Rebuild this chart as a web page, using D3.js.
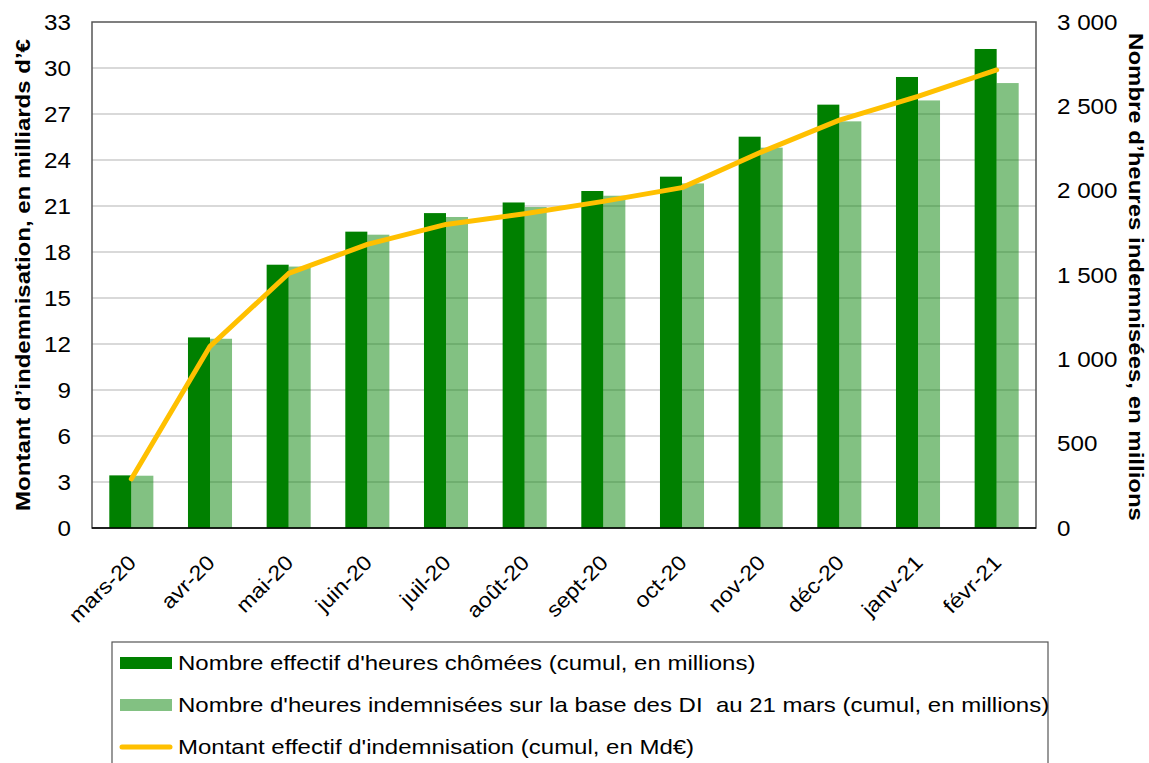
<!DOCTYPE html>
<html>
<head>
<meta charset="utf-8">
<script src="https://cdn.jsdelivr.net/npm/d3@7"></script>
<style>
  body { margin: 0; background: #fff; }
  svg { font-family: "Liberation Sans", Arial, sans-serif; }
</style>
</head>
<body>
<div id="chart"></div>
<script>
// months
var categories = ['mars-20', 'avr-20', 'mai-20', 'juin-20', 'juil-20', 'août-20',
                  'sept-20', 'oct-20', 'nov-20', 'déc-20', 'janv-21', 'févr-21'];
// cumulated hours, millions (right axis)
var heuresEffectives = [312, 1130, 1561, 1757, 1867, 1930, 1998, 2083, 2320, 2510, 2674, 2840];
var heuresDI = [310, 1122, 1550, 1739, 1844, 1903, 1970, 2043, 2255, 2411, 2535, 2638];
// cumulated amount, Md€ (left axis)
var montant = [3.2, 11.85, 16.6, 18.5, 19.8, 20.5, 21.3, 22.2, 24.5, 26.6, 28.15, 29.87];

var leftTicks = [0, 3, 6, 9, 12, 15, 18, 21, 24, 27, 30, 33];
var rightTicks = [0, 500, 1000, 1500, 2000, 2500, 3000];
var seriesNames = ["Nombre effectif d'heures chômées (cumul, en millions)",
                   "Nombre d'heures indemnisées sur la base des DI  au 21 mars (cumul, en millions)",
                   "Montant effectif d'indemnisation (cumul, en Md€)"];

var W = 1149, H = 763;
var margin = {top: 22, right: 113, bottom: 235, left: 92},
    width = W - margin.left - margin.right,
    height = H - margin.top - margin.bottom;

var dark = '#008000', light = 'rgba(0,128,0,0.49)', gold = '#ffc000';
var wide = 'scale(1.2,1)'; // the source font runs wider than Liberation Sans

var svg = d3.select('#chart').append('svg')
    .attr('width', W).attr('height', H);
var g = svg.append('g')
    .attr('transform', 'translate(' + margin.left + ',' + margin.top + ')');

var x0 = d3.scaleBand().domain(categories).range([0, width])
    .paddingInner(0.44).paddingOuter(0.22);
var x1 = d3.scaleBand().domain(['eff', 'di']).range([0, x0.bandwidth()]);
var yL = d3.scaleLinear().domain([0, 33]).range([height, 0]);
var yR = d3.scaleLinear().domain([0, 3000]).range([height, 0]);

// gridlines
g.append('g')
    .selectAll('line').data(leftTicks.filter(function(d) { return d > 0 && d < 33; }))
    .enter().append('line')
    .attr('x1', 0).attr('x2', width)
    .attr('y1', function(d) { return yL(d); }).attr('y2', function(d) { return yL(d); })
    .attr('stroke', '#d9d9d9').attr('stroke-width', 2);

// plot frame
g.append('rect').attr('x', 0).attr('y', 0).attr('width', width).attr('height', height)
    .attr('fill', 'none').attr('stroke', '#555').attr('stroke-width', 1.5);

// bars
var rows = categories.map(function(c, i) {
    return {cat: c, eff: heuresEffectives[i], di: heuresDI[i]};
});
var grp = g.append('g').selectAll('g').data(rows).enter().append('g')
    .attr('transform', function(d) { return 'translate(' + x0(d.cat) + ',0)'; });
grp.append('rect')
    .attr('x', x1('eff')).attr('width', x1.bandwidth())
    .attr('y', function(d) { return yR(d.eff); })
    .attr('height', function(d) { return height - yR(d.eff); })
    .attr('fill', dark);
grp.append('rect')
    .attr('x', x1('di')).attr('width', x1.bandwidth())
    .attr('y', function(d) { return yR(d.di); })
    .attr('height', function(d) { return height - yR(d.di); })
    .attr('fill', light);

// bottom axis line
g.append('line').attr('x1', 0).attr('x2', width).attr('y1', height).attr('y2', height)
    .attr('stroke', '#000').attr('stroke-width', 1.5);

// line
var line = d3.line()
    .x(function(d, i) { return x0(categories[i]) + x0.bandwidth() / 2; })
    .y(function(d) { return yL(d); });
g.append('path').datum(montant)
    .attr('d', line)
    .attr('fill', 'none').attr('stroke', gold).attr('stroke-width', 5)
    .attr('stroke-linecap', 'round').attr('stroke-linejoin', 'round');

// left axis
var axL = g.append('g').call(d3.axisLeft(yL).tickValues(leftTicks).tickSize(0));
axL.select('.domain').remove();
axL.selectAll('text').attr('font-size', 22).attr('fill', '#000')
    .attr('font-family', '"Liberation Sans", Arial, sans-serif')
    .attr('x', 0).attr('transform', 'translate(-21,0) scale(1.1,1)');

// right axis
var fmt = function(d) { return d3.format(',')(d).replace(/,/g, '\u00a0'); };
var axR = g.append('g').attr('transform', 'translate(' + width + ',0)')
    .call(d3.axisRight(yR).tickValues(rightTicks).tickSize(0).tickFormat(fmt));
axR.select('.domain').remove();
axR.selectAll('text').attr('font-size', 22).attr('fill', '#000')
    .attr('font-family', '"Liberation Sans", Arial, sans-serif')
    .attr('x', 0).attr('transform', 'translate(21,0) scale(1.1,1)');

// x axis labels
var axX = g.append('g').attr('transform', 'translate(0,' + height + ')')
    .call(d3.axisBottom(x0).tickSize(0).tickPadding(0));
axX.select('.domain').remove();
axX.selectAll('text')
    .attr('font-size', 21).attr('fill', '#000')
    .attr('font-family', '"Liberation Sans", Arial, sans-serif')
    .attr('text-anchor', 'end')
    .attr('y', 0).attr('dy', null)
    .attr('transform', 'translate(6,36) rotate(-45) scale(1.1,1)');

// axis titles
svg.append('text')
    .attr('transform', 'translate(30,' + (margin.top + height / 2) + ') rotate(-90) ' + wide)
    .attr('text-anchor', 'middle')
    .attr('font-size', 20).attr('font-weight', 'bold')
    .text("Montant d\u2019indemnisation, en milliards d\u2019€");
svg.append('text')
    .attr('transform', 'translate(1129,' + (margin.top + height / 2 + 2) + ') rotate(90) ' + wide)
    .attr('text-anchor', 'middle')
    .attr('font-size', 20).attr('font-weight', 'bold')
    .text("Nombre d\u2019heures indemnisées, en millions");

// legend
var leg = svg.append('g');
leg.append('rect').attr('x', 112).attr('y', 642).attr('width', 936).attr('height', 140)
    .attr('fill', '#fff').attr('stroke', '#555').attr('stroke-width', 1.2);
var legY = [663, 705, 747];
var li = leg.selectAll('g.item').data(seriesNames).enter().append('g').attr('class', 'item')
    .attr('transform', function(d, i) { return 'translate(0,' + legY[i] + ')'; });
li.each(function(d, i) {
    var s = d3.select(this);
    if (i < 2) {
        s.append('rect').attr('x', 120).attr('y', -6).attr('width', 52).attr('height', 12)
            .attr('fill', i === 0 ? dark : light);
    } else {
        s.append('line').attr('x1', 122).attr('x2', 170).attr('y1', 0).attr('y2', 0)
            .attr('stroke', gold).attr('stroke-width', 5).attr('stroke-linecap', 'round');
    }
    s.append('text').attr('transform', 'translate(178,0) ' + wide)
        .attr('dy', '0.35em').style('white-space', 'pre')
        .attr('font-size', 20).text(d);
});
</script>
</body>
</html>
